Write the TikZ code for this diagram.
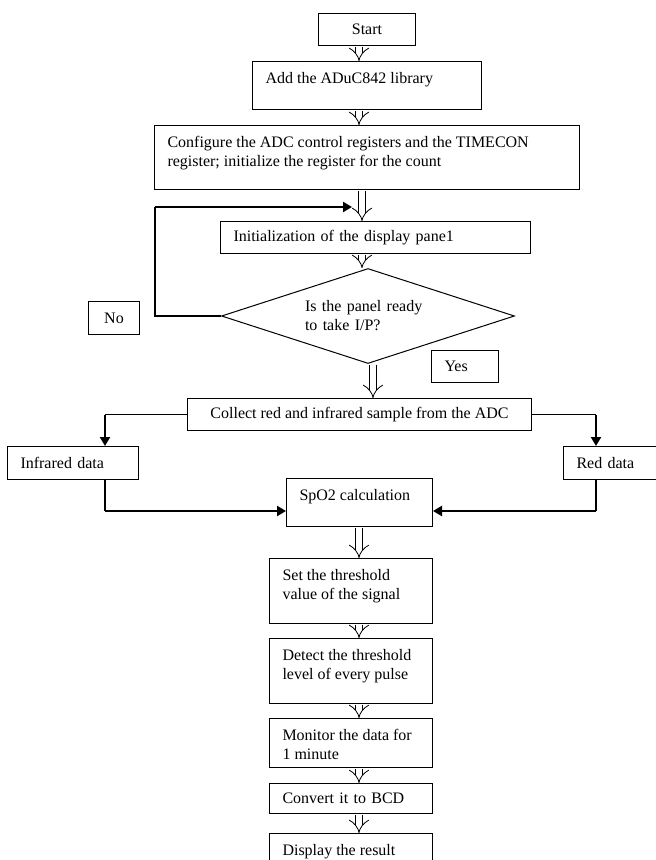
\documentclass[tikz,border=0pt]{standalone}
\usepackage{fontspec}
\setmainfont{Liberation Serif}
\usetikzlibrary{arrows.meta,shapes.geometric}

\newcommand{\topbox}[3]{\parbox[c][#2pt][t]{#1pt}{#3}}

\begin{document}
\begin{tikzpicture}[x=1pt,y=-1pt,font=\fontsize{16}{19}\selectfont,
	stepbox/.style={draw,line width=1pt,anchor=north west,inner xsep=13pt,inner ysep=0pt,align=left},
	topstep/.style={stepbox,inner ysep=11pt},
	dblarrow/.style={double,double distance=6.5pt,line width=0.8pt,shorten <=0.6pt,-{Implies}},
	flow/.style={line width=1.1pt},
	thickflow/.style={line width=2.4pt,-{Triangle[length=9pt,width=10pt]}}]
				\useasboundingbox (0,0) rectangle (656,860);

				\node[stepbox,minimum width=97,minimum height=32,inner xsep=0pt,align=center] (start) at (318,13) {Start};
				\node[topstep] (add) at (252,61) {\topbox{203}{26}{Add the ADuC842 library}};
				\node[topstep] (config) at (154,125) {\topbox{399}{42}{Configure the ADC control registers and the TIMECON\\register; initialize the register for the count}};
				\node[stepbox,minimum height=32,text width=284] (init) at (220,221) {Initialization of the display pane1};
				\node[draw,diamond,shape aspect=3,line width=1pt,minimum width=293,minimum height=95,inner sep=0pt,text width=126,align=left] (ready) at (368,316) {Is the panel ready\\to take I/P?};
				\node[stepbox,minimum width=51,minimum height=33,inner xsep=0pt,align=center] (no) at (88,301) {No};
				\node[stepbox,minimum height=32,text width=41] (yes) at (431,350) {Yes};
				\node[stepbox,minimum width=344,minimum height=32,align=center] (collect) at (187,398) {Collect red and infrared sample from the ADC};
				\node[stepbox,minimum height=33,text width=105] (infra) at (7,446) {Infrared data};
				\node[stepbox,minimum height=33,text width=100] (red) at (563,446) {Red data};
				\node[topstep] (spo2) at (286,478) {\topbox{120}{26}{SpO2 calculation}};
				\node[topstep] (thres) at (269,558) {\topbox{137}{43}{Set the threshold\\value of the signal}};
				\node[topstep] (pulse) at (269,638) {\topbox{137}{43}{Detect the threshold\\level of every pulse}};
				\node[topstep] (monitor) at (269,718) {\topbox{137}{27}{Monitor the data for\\1 minute}};
				\node[stepbox,minimum height=30,text width=137] (bcd) at (269,783) {Convert it to BCD};
				\node[topstep] (result) at (269,833) {\topbox{137}{20}{Display the result}};

				% main column
				\coordinate (axis) at (359,0);
				\coordinate (axisb) at (362,0);
				\coordinate (axisc) at (373,0);
				\draw[dblarrow] (start.south -| axis) -- (add.north -| axis);
				\draw[dblarrow] (add.south -| axis) -- (config.north -| axis);
				\draw[dblarrow] (config.south -| axisb) -- (init.north -| axisb);
				\draw[dblarrow] (init.south -| axisb) -- (ready.north -| axisb);
				\draw[dblarrow] (ready.south -| axisc) -- (collect.north -| axisc);
				\draw[dblarrow] (spo2.south -| axis) -- (thres.north -| axis);
				\draw[dblarrow] (thres.south -| axis) -- (pulse.north -| axis);
				\draw[dblarrow] (pulse.south -| axis) -- (monitor.north -| axis);
				\draw[dblarrow] (monitor.south -| axis) -- (bcd.north -| axis);
				\draw[dblarrow] (bcd.south -| axis) -- (result.north -| axis);

				% loop back
				\coordinate (loopup) at (155,207);
				\coordinate (looptip) at (352,207);
				\draw[flow] (ready.west) -| (loopup);
				\draw[thickflow] (loopup) -- (looptip);

				% two channels
				\coordinate (irx) at (105,0);
				\coordinate (rdx) at (596,0);
				\coordinate (mergey) at (0,511);
				\draw[flow] (collect.west) -- (collect.west -| irx);
				\draw[thickflow] (collect.west -| irx) -- (infra.north -| irx);
				\draw[flow] (collect.east) -- (collect.east -| rdx);
				\draw[thickflow] (collect.east -| rdx) -- (red.north -| rdx);
				\draw[flow] (infra.south -| irx) -- (irx |- mergey);
				\draw[thickflow] (irx |- mergey) -- (spo2.west |- mergey);
				\draw[flow] (red.south -| rdx) -- (rdx |- mergey);
				\draw[thickflow] (rdx |- mergey) -- (spo2.east |- mergey);
	\end{tikzpicture}
\end{document}
